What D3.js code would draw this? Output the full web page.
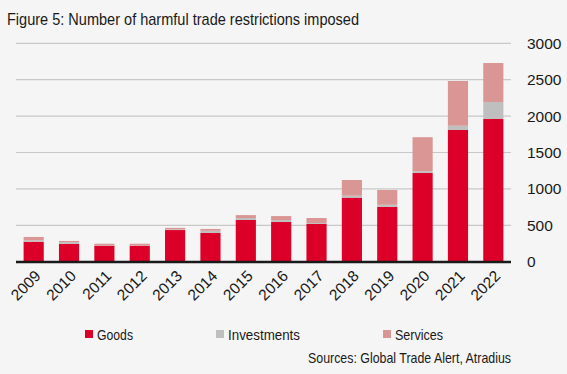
<!DOCTYPE html>
<html>
<head>
<meta charset="utf-8">
<script src="https://cdn.jsdelivr.net/npm/d3@7"></script>
<style>
    body { margin: 0; background: #f5f5f5; }
    svg { display: block; font-family: "Liberation Sans", Arial, sans-serif; }
</style>
</head>
<body>
<div id="chart"></div>
<script>
(function() {
    let w = 567;
    let h = 374;

    let years = ["2009", "2010", "2011", "2012", "2013", "2014", "2015", "2016", "2017", "2018", "2019", "2020", "2021", "2022"];
    let goods = [275, 245, 220, 220, 435, 395, 573, 545, 518, 880, 755, 1218, 1809, 1960];
    let investments = [20, 25, 5, 5, 10, 30, 27, 27, 14, 27, 27, 25, 59, 234];
    let services = [45, 15, 22, 22, 20, 25, 40, 55, 68, 215, 203, 467, 614, 535];
    let yTicks = [0, 500, 1000, 1500, 2000, 2500, 3000];

    let seriesNames = ["Goods", "Investments", "Services"];
    let colors = ["#dc0028", "#bfbfbf", "#d99694"];

    let svg = d3.select("#chart")
        .append("svg")
        .attr("width", w)
        .attr("height", h);

    svg.append("rect")
        .attr("width", w)
        .attr("height", h)
        .attr("fill", "#f5f5f5");

    // the original uses a condensed face, so squeeze the text to its width
    svg.append("text")
        .attr("x", 7)
        .attr("y", 25)
        .attr("font-size", 17)
        .attr("fill", "#1a1a1a")
        .attr("textLength", 352)
        .attr("lengthAdjust", "spacingAndGlyphs")
        .text("Figure 5: Number of harmful trade restrictions imposed");

    let x = d3.scaleBand()
        .domain(years)
        .range([16, 511])
        .paddingInner(0.43)
        .paddingOuter(0.215);

    let y = d3.scaleLinear()
        .domain([0, 3000])
        .range([261.7, 43.3]);

    // gridlines
    svg.selectAll(".grid")
        .data(yTicks.slice(1))
        .enter()
        .append("line")
        .attr("class", "grid")
        .attr("x1", 16)
        .attr("x2", 511)
        .attr("y1", (d) => y(d))
        .attr("y2", (d) => y(d))
        .attr("stroke", "#c8c8c8")
        .attr("stroke-width", 1.2);

    let table = years.map((yr, i) => ({
        year: yr,
        Goods: goods[i],
        Investments: investments[i],
        Services: services[i]
    }));

    let stacked = d3.stack().keys(seriesNames)(table);

    svg.selectAll(".series")
        .data(stacked)
        .enter()
        .append("g")
        .attr("fill", (d, i) => colors[i])
        .selectAll("rect")
        .data((d) => d)
        .enter()
        .append("rect")
        .attr("x", (d) => x(d.data.year))
        .attr("width", x.bandwidth())
        .attr("y", (d) => y(d[1]))
        .attr("height", (d) => y(d[0]) - y(d[1]));

    // axis line
    svg.append("line")
        .attr("x1", 16)
        .attr("x2", 511)
        .attr("y1", 262)
        .attr("y2", 262)
        .attr("stroke", "#1a1a1a")
        .attr("stroke-width", 2.5);

    // y labels on the right
    let yAxis = d3.axisRight(y)
        .tickValues(yTicks)
        .tickFormat(d3.format("d"))
        .tickSize(0)
        .tickPadding(0);

    let yg = svg.append("g")
        .attr("transform", "translate(527,0)")
        .call(yAxis);
    yg.select(".domain").remove();
    yg.selectAll("text")
        .attr("font-size", 15.5)
        .attr("font-family", "Liberation Sans, Arial, sans-serif")
        .attr("fill", "#1a1a1a");

    // x labels rotated
    svg.selectAll(".xlab")
        .data(years)
        .enter()
        .append("text")
        .attr("class", "xlab")
        .attr("text-anchor", "end")
        .attr("font-size", 15.5)
        .attr("fill", "#1a1a1a")
        .attr("transform", (d) => "translate(" + (x(d) + x.bandwidth() / 2 + 8) + ",277) rotate(-45)")
        .text((d) => d);

    // legend
    let legendX = [85, 216, 383];
    let legendW = [36, 72, 48];
    let legend = svg.selectAll(".legend")
        .data(seriesNames)
        .enter()
        .append("g")
        .attr("transform", (d, i) => "translate(" + legendX[i] + ",330)");

    legend.append("rect")
        .attr("width", 8)
        .attr("height", 8)
        .attr("fill", (d, i) => colors[i]);

    legend.append("text")
        .attr("x", 12)
        .attr("y", 9.5)
        .attr("font-size", 15.5)
        .attr("fill", "#1a1a1a")
        .attr("textLength", (d, i) => legendW[i])
        .attr("lengthAdjust", "spacingAndGlyphs")
        .text((d) => d);

    svg.append("text")
        .attr("x", 308)
        .attr("y", 363)
        .attr("font-size", 15)
        .attr("fill", "#1a1a1a")
        .attr("textLength", 203)
        .attr("lengthAdjust", "spacingAndGlyphs")
        .text("Sources: Global Trade Alert, Atradius");
})();
</script>
</body>
</html>
